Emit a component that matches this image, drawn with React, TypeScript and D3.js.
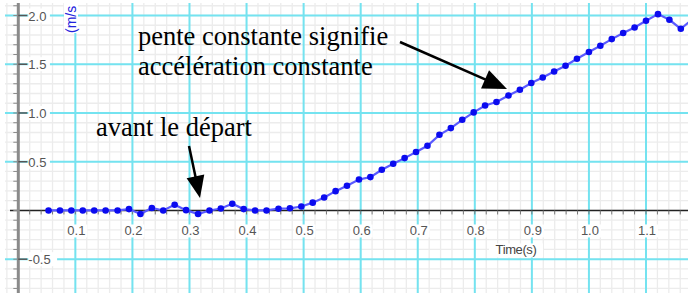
import React from "react";
import * as d3 from "d3";

const times = [
  0.053, 0.073, 0.093, 0.113, 0.133, 0.153, 0.174, 0.194, 0.214, 0.234,
  0.254, 0.274, 0.294, 0.315, 0.335, 0.355, 0.375, 0.395, 0.415, 0.435,
  0.456, 0.476, 0.496, 0.516, 0.536, 0.556, 0.576, 0.597, 0.617, 0.637,
  0.657, 0.677, 0.697, 0.717, 0.738, 0.758, 0.778, 0.798, 0.818, 0.838,
  0.859, 0.879, 0.899, 0.919, 0.939, 0.959, 0.979, 1.0, 1.02, 1.04,
  1.06, 1.08, 1.1, 1.121, 1.141, 1.161, 1.181,
];
const velocity = [
  0, 0, 0, 0, 0, 0, 0, 0.014, -0.037, 0.025,
  0, 0.058, 0.003, -0.037, 0, 0.02, 0.069, 0.014, 0, 0,
  0.018, 0.022, 0.041, 0.08, 0.133, 0.198, 0.253, 0.318, 0.342, 0.417,
  0.479, 0.537, 0.599, 0.664, 0.776, 0.845, 0.93, 1.006, 1.077, 1.112,
  1.18, 1.238, 1.307, 1.364, 1.426, 1.484, 1.556, 1.625, 1.69, 1.758,
  1.82, 1.877, 1.946, 2.014, 1.956, 1.864, 1.96,
];
const xTicks = [0.1, 0.2, 0.3, 0.4, 0.5, 0.6, 0.7, 0.8, 0.9, 1.0, 1.1];
const xTickLabels = ["0.1", "0.2", "0.3", "0.4", "0.5", "0.6", "0.7", "0.8", "0.9", "1.0", "1.1"];
const yTicks = [2.0, 1.5, 1.0, 0.5, -0.5];
const yTickLabels = ["2.0", "1.5", "1.0", "0.5", "-0.5"];
const xTitle = "Time(s)";
const yTitle = "(m/s";
const note1 = ["pente constante signifie", "accélération constante"];
const note2 = "avant le départ";

const W = 688;
const H = 293;

function Arrow({ x1, y1, x2, y2, hl = 22, hw = 9 }: { x1: number; y1: number; x2: number; y2: number; hl?: number; hw?: number }) {
  const dx = x2 - x1, dy = y2 - y1;
  const len = Math.hypot(dx, dy);
  const ux = dx / len, uy = dy / len;
  const bx = x2 - ux * hl, by = y2 - uy * hl;
  const pts = [
    [x2, y2],
    [bx - uy * hw, by + ux * hw],
    [bx + uy * hw, by - ux * hw],
  ];
  return (
    <g>
      <line x1={x1} y1={y1} x2={bx + ux * 2} y2={by + uy * 2} stroke="#000" strokeWidth={2.5} />
      <polygon points={pts.map((p) => p.join(",")).join(" ")} fill="#000" />
    </g>
  );
}

export default function App() {
  const x = d3.scaleLinear().domain([0, 1.1]).range([18.3, 646]);
  const y = d3.scaleLinear().domain([-0.5, 2.0]).range([259.2, 15.5]);
  const gx0 = 5, gy0 = 3;
  const minorX = d3.range(-1, 60).map((i) => i * 0.02);
  const minorY = d3.range(-9, 22).map((i) => i * 0.1);
  const majorX = xTicks;
  const majorY = [2.0, 1.5, 1.0, 0.5, -0.5];
  const line = d3
    .line<number>()
    .x((_, i) => x(times[i]))
    .y((d) => y(d));
  const sans = "'Liberation Sans', Arial, sans-serif";
  const serif = "'Liberation Serif', 'Times New Roman', serif";
  return (
    <svg width={W} height={H} style={{ position: "absolute", left: 0, top: 0, background: "#fff" }}>
      <defs>
        <clipPath id="plot">
          <rect x={gx0} y={gy0} width={W - gx0} height={H - gy0} />
        </clipPath>
      </defs>
      <rect x={0} y={0} width={W} height={H} fill="#fff" />
      <g clipPath="url(#plot)">
        {minorX.map((v, i) => (
          <line key={"mx" + i} x1={x(v)} x2={x(v)} y1={gy0} y2={H} stroke="#ececec" strokeWidth={1.3} />
        ))}
        {minorY.map((v, i) => (
          <line key={"my" + i} x1={gx0} x2={W} y1={y(v)} y2={y(v)} stroke="#ececec" strokeWidth={1.3} />
        ))}
        {majorX.map((v, i) => (
          <line key={"Mx" + i} x1={x(v)} x2={x(v)} y1={gy0} y2={H} stroke="#74e3f0" strokeWidth={2} />
        ))}
        {majorY.map((v, i) => (
          <line key={"My" + i} x1={gx0} x2={W} y1={y(v)} y2={y(v)} stroke="#74e3f0" strokeWidth={2} />
        ))}
        {/* x axis */}
        <line x1={gx0 + 5} x2={W} y1={y(0)} y2={y(0)} stroke="#222" strokeWidth={1.5} />
        {minorX.filter((v) => v > 0).map((v, i) => (
          <line key={"xt" + i} x1={x(v)} x2={x(v)} y1={y(0)} y2={y(0) + 4} stroke="#777" strokeWidth={1} />
        ))}
        {/* y axis */}
        <line x1={x(0)} x2={x(0)} y1={gy0} y2={H} stroke="#8a8a8a" strokeWidth={3} />
        {minorY.map((v, i) => (
          <line key={"yt" + i} x1={x(0) - 5} x2={x(0)} y1={y(v)} y2={y(v)} stroke="#8a8a8a" strokeWidth={1} />
        ))}
        {majorY.map((v, i) => (
          <line key={"ytM" + i} x1={x(0)} x2={x(0) + 9} y1={y(v)} y2={y(v)} stroke="#555" strokeWidth={1.5} />
        ))}
      </g>
      {/* y tick labels */}
      {yTicks.map((v, i) => {
        const lbl = yTickLabels[i];
        const w = lbl.length * 7.2;
        return (
          <g key={"yl" + i}>
            <rect x={x(0) + 10} y={y(v) - 7} width={w} height={14} fill="#fff" />
            <text x={x(0) + 10} y={y(v) + 5} fontFamily={sans} fontSize={13} fill="#555">
              {lbl}
            </text>
          </g>
        );
      })}
      {/* x tick labels */}
      {xTicks.map((v, i) => {
        const lbl = xTickLabels[i];
        return (
          <g key={"xl" + i}>
            <rect x={x(v) - 10} y={y(0) + 14} width={22} height={13} fill="#fff" />
            <text x={x(v) + 1} y={y(0) + 25} textAnchor="middle" fontFamily={sans} fontSize={13} fill="#555">
              {lbl}
            </text>
          </g>
        );
      })}
      <rect x={489} y={y(0) + 33} width={54} height={14} fill="#fff" />
      <text x={516} y={y(0) + 44} textAnchor="middle" fontFamily={sans} fontSize={13} fill="#444" letterSpacing={-0.4}>
        {xTitle}
      </text>
      {/* y title */}
      <rect x={64} y={3} width={14} height={30} fill="#fff" />
      <text
        transform={`translate(76,33) rotate(-90)`}
        fontFamily={sans}
        fontSize={14}
        fill="#2222dd"
      >
        {yTitle}
      </text>
      {/* data */}
      <path d={line(velocity) || ""} fill="none" stroke="#5a5aff" strokeWidth={2.2} />
      {velocity.map((v, i) => (
        <circle key={"p" + i} cx={x(times[i])} cy={y(v)} r={3.3} fill="#0b0bef" />
      ))}
      {/* annotations */}
      <text x={138} y={45} fontFamily={serif} fontSize={26.5} fill="#000">
        {note1[0]}
      </text>
      <text x={138} y={75} fontFamily={serif} fontSize={26.5} fill="#000">
        {note1[1]}
      </text>
      <text x={96} y={136} fontFamily={serif} fontSize={26.5} fill="#000">
        {note2}
      </text>
      <Arrow x1={400} y1={42} x2={507} y2={89} hl={24} hw={10} />
      <Arrow x1={189} y1={146} x2={200} y2={198} />
    </svg>
  );
}
